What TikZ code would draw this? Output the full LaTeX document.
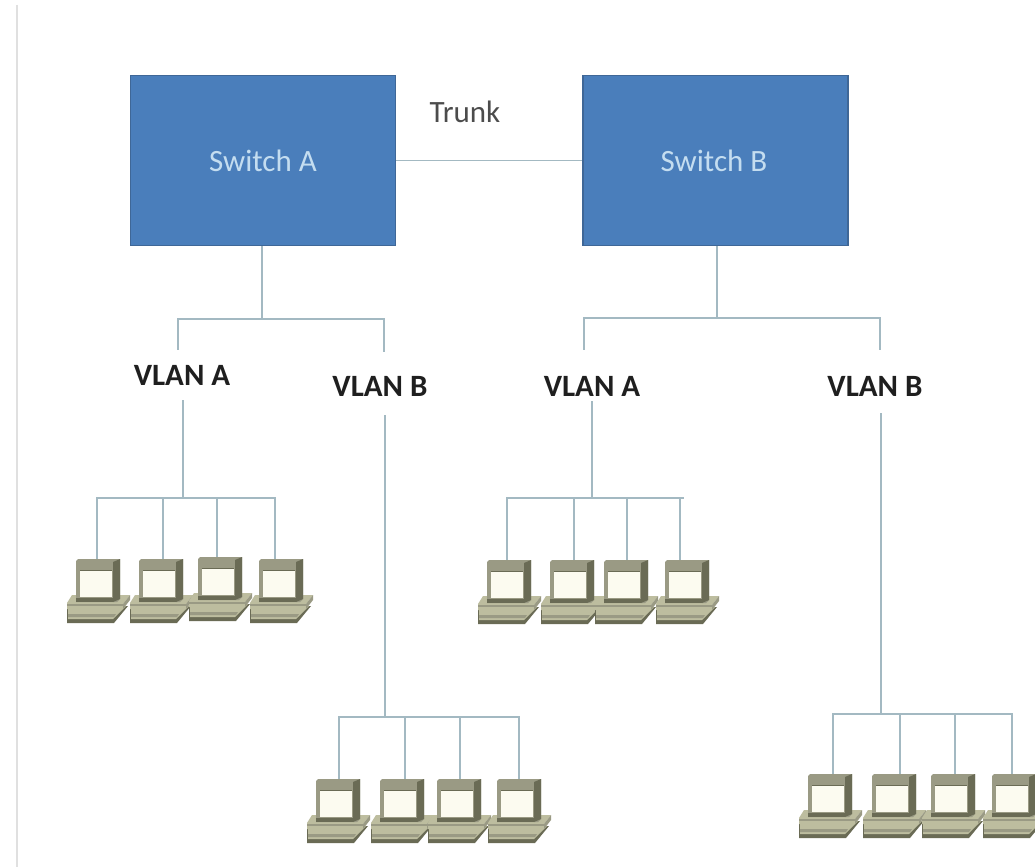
\documentclass[tikz,border=0pt]{standalone}
\usepackage{fontspec}
\setmainfont{Carlito}
\definecolor{wire}{HTML}{A3B9C2}
\definecolor{swfill}{HTML}{4A7EBB}
\definecolor{swedge}{HTML}{3F6797}
\definecolor{swtext}{HTML}{C4DDF0}
\definecolor{pclight}{HTML}{BDBD9F}
\definecolor{pcmid}{HTML}{9A9A84}
\definecolor{pcdark}{HTML}{6A6B55}
\definecolor{pcscreen}{HTML}{FCFBF0}
\tikzset{
  x=1pt,y=-1pt,
  wireline/.style={draw=wire,line width=1.5pt},
  switchbox/.style={draw=swedge,line width=1.6pt,fill=swfill,minimum width=265pt,minimum height=170pt,text=swtext,font=\fontsize{31}{31}\selectfont},
  vlanlabel/.style={font=\fontsize{31}{31}\selectfont\bfseries,text=black!88,inner sep=0pt,minimum height=26pt},
  trunklabel/.style={font=\fontsize{31}{31}\selectfont,text=black!70,inner sep=0pt},
  computer/.pic={
    % base, lower slab
    \fill[pcdark] (-9,47) -- (-9,64) -- (38,64) -- (52,47) -- cycle;
    \fill[pclight] (-8,48) -- (-8,60) -- (37,60) -- (50,47) -- cycle;
    \fill[pcmid] (-8,55) -- (40,55) -- (38,58) -- (-8,58) -- cycle;
    % base, upper slab
    \fill[pclight] (-9,44) -- (-4,36) -- (54,36) -- (47,45) -- (47,50) -- (-9,50) -- cycle;
    \fill[pcmid] (47,45) -- (54,36) -- (54,41) -- (47,50) -- cycle;
    \fill[pcmid] (-9,45) -- (47,45) -- (47,46.5) -- (-9,46.5) -- cycle;
    % monitor
    \fill[pcmid] (0,2) -- (2,0) -- (44,0) -- (44,40) -- (41,43) -- (0,43) -- cycle;
    \fill[pcdark] (37,3) -- (44,0) -- (44,40) -- (37,43) -- cycle;
    \fill[pcdark] (0,39) -- (37,39) -- (37,43) -- (0,43) -- cycle;
    \fill[pcscreen] (4,11) -- (36,11) -- (36,38) -- (4,38) -- cycle;
    \draw[pcdark,line width=1pt] (4,11) -- (36,11);
  }
}
\begin{document}
\begin{tikzpicture}
\useasboundingbox (0,0) rectangle (1035,867);
\fill[white] (0,0) rectangle (1035,867);
\draw[black!12,line width=2pt] (17,5) -- (17,867);

\node[switchbox] (swA) at (263,160.5) {Switch A};
\node[switchbox] (swB) at (715.5,160.5) {\hspace*{-3pt}Switch B};
\node[trunklabel] (trunk) at (465,112) {Trunk};

\node[vlanlabel] (v1) at (182,375) {VLAN A};
\node[vlanlabel] (v2) at (380,386) {VLAN B};
\node[vlanlabel] (v3) at (592,386) {VLAN A};
\node[vlanlabel] (v4) at (875,386) {VLAN B};

\draw[wireline] (swA.east) -- (swB.west);

% upper buses
\coordinate (ua) at (262,319); \coordinate (ual) at (178,319); \coordinate (uar) at (384,319);
\coordinate (ub) at (717,318); \coordinate (ubl) at (584,318); \coordinate (ubr) at (880,318);
\draw[wireline] (swA.south -| ua) -- (ua);
\draw[wireline] (swB.south -| ub) -- (ub);
\draw[wireline,shorten <=12pt,shorten >=21pt] (ual |- v1.north) -- (ual) -- (uar) -- (uar |- v2.north);
\draw[wireline,shorten <=23pt,shorten >=23pt] (ubl |- v3.north) -- (ubl) -- (ubr) -- (ubr |- v4.north);

% group 1
\coordinate (g1) at (183,498);
\coordinate (g1a) at (97,498); \coordinate (g1b) at (163,498); \coordinate (g1c) at (217,498); \coordinate (g1d) at (275,498);
\pic at (76,559) {computer}; \pic at (139,559) {computer}; \pic at (198,557) {computer}; \pic at (259,559) {computer};
\coordinate (p1a) at (97,559); \coordinate (p1b) at (163,559); \coordinate (p1c) at (217,557); \coordinate (p1d) at (275,559);
\draw[wireline,shorten <=12pt] (v1.south -| g1) -- (g1);
\draw[wireline] (p1a) -- (g1a) -- (g1d) -- (p1d);
\draw[wireline] (g1b) -- (p1b);
\draw[wireline] (g1c) -- (p1c);

% group 2
\coordinate (g2) at (385,717);
\coordinate (g2a) at (339,717); \coordinate (g2b) at (405,717); \coordinate (g2c) at (460,717); \coordinate (g2d) at (519,717);
\pic at (316,779) {computer}; \pic at (380,779) {computer}; \pic at (437,779) {computer}; \pic at (497,779) {computer};
\coordinate (p2a) at (339,779); \coordinate (p2b) at (405,779); \coordinate (p2c) at (460,779); \coordinate (p2d) at (519,779);
\draw[wireline,shorten <=16pt] (v2.south -| g2) -- (g2);
\draw[wireline] (p2a) -- (g2a) -- (g2d) -- (p2d);
\draw[wireline] (g2b) -- (p2b);
\draw[wireline] (g2c) -- (p2c);

% group 3
\coordinate (g3) at (592,498);
\coordinate (g3a) at (507,498); \coordinate (g3b) at (574,498); \coordinate (g3c) at (627,498); \coordinate (g3d) at (680,498);
\coordinate (g3e) at (684,498);
\pic at (487,560) {computer}; \pic at (550,560) {computer}; \pic at (604,560) {computer}; \pic at (665,560) {computer};
\coordinate (p3a) at (507,560); \coordinate (p3b) at (574,560); \coordinate (p3c) at (627,560); \coordinate (p3d) at (680,560);
\draw[wireline,shorten <=2pt] (v3.south -| g3) -- (g3);
\draw[wireline] (p3a) -- (g3a) -- (g3e);
\draw[wireline] (g3d) -- (p3d);
\draw[wireline] (g3b) -- (p3b);
\draw[wireline] (g3c) -- (p3c);

% group 4
\coordinate (g4) at (881,714);
\coordinate (g4a) at (833,714); \coordinate (g4b) at (900,714); \coordinate (g4c) at (955,714); \coordinate (g4d) at (1012,714);
\pic at (808,774) {computer}; \pic at (872,774) {computer}; \pic at (931,774) {computer}; \pic at (992,774) {computer};
\coordinate (p4a) at (833,774); \coordinate (p4b) at (900,774); \coordinate (p4c) at (955,774); \coordinate (p4d) at (1012,774);
\draw[wireline,shorten <=14pt] (v4.south -| g4) -- (g4);
\draw[wireline] (p4a) -- (g4a) -- (g4d) -- (p4d);
\draw[wireline] (g4b) -- (p4b);
\draw[wireline] (g4c) -- (p4c);
\end{tikzpicture}
\end{document}
